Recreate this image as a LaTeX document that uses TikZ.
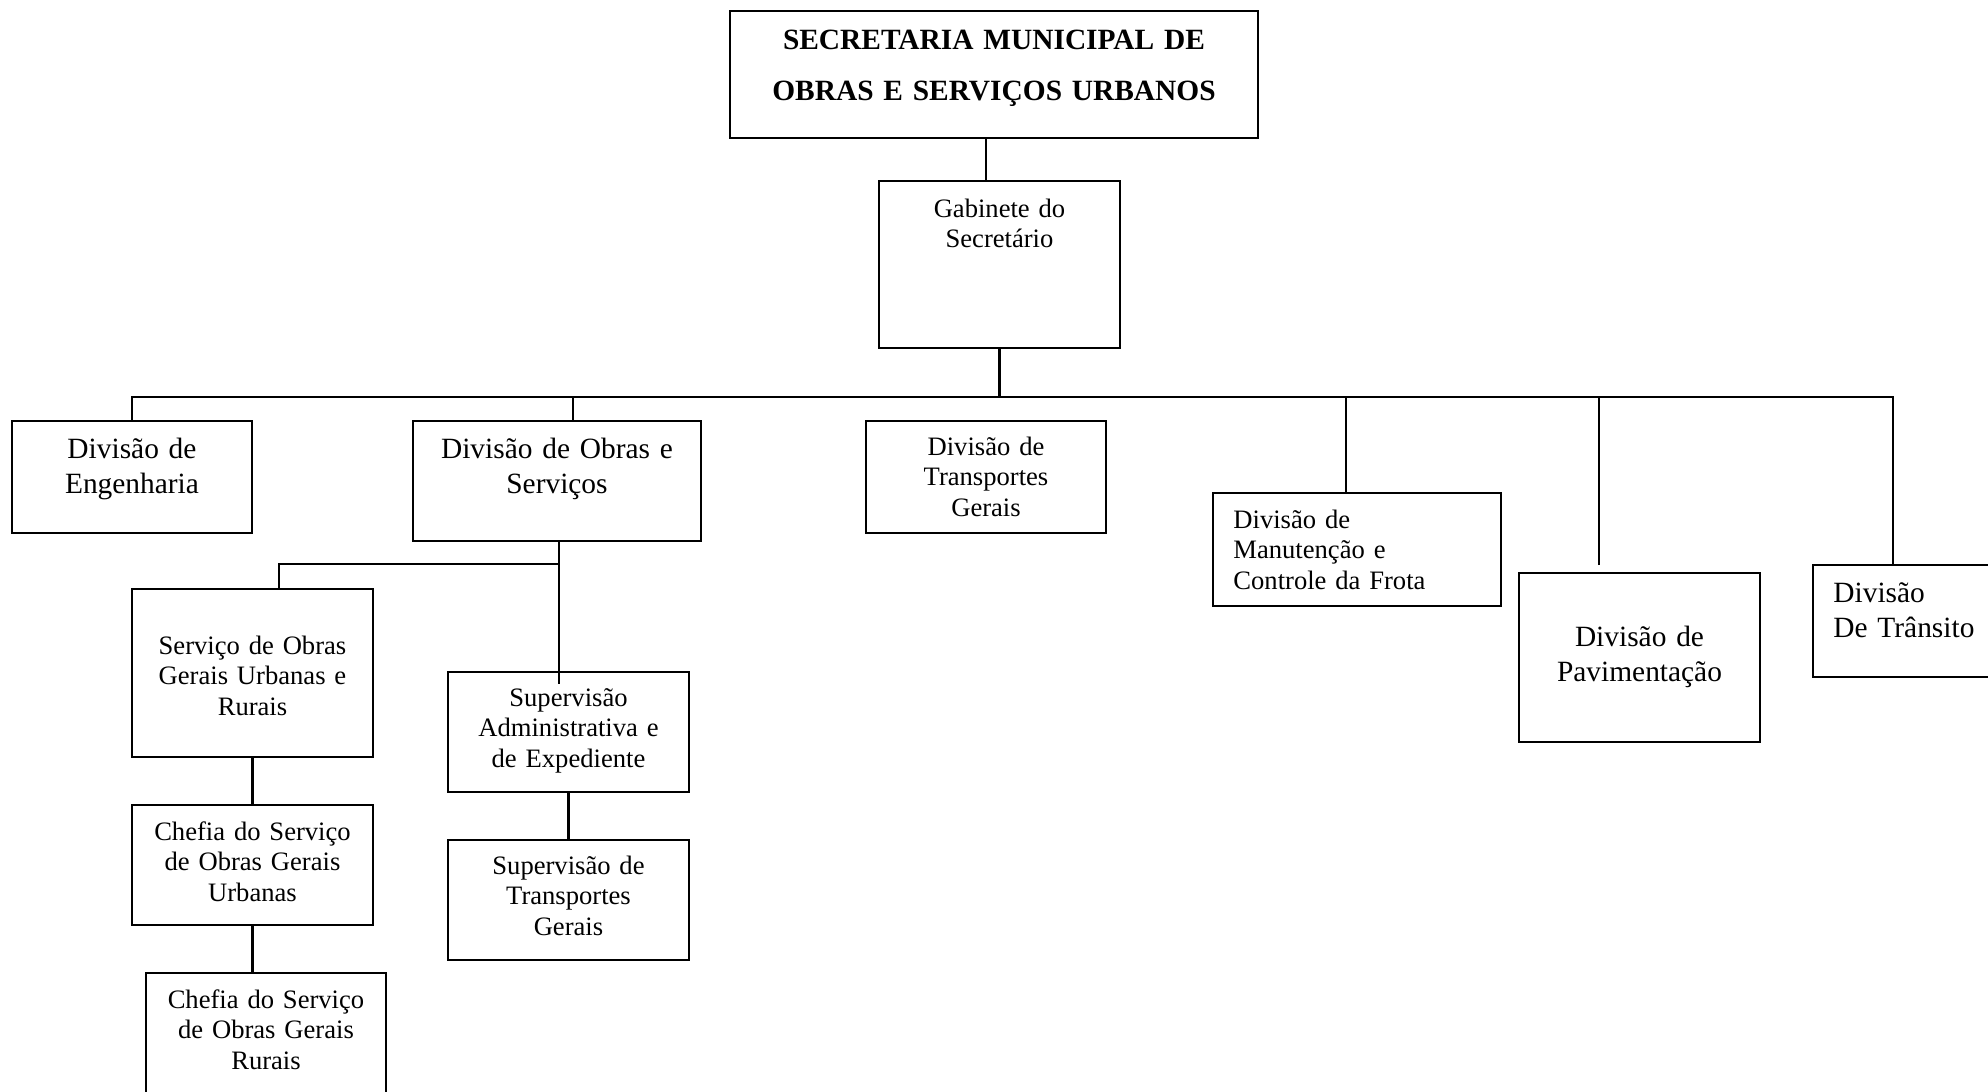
\documentclass[tikz,border=0pt]{standalone}
\usepackage{fontspec}
\setmainfont{Liberation Serif}
\usetikzlibrary{calc}
% one unit = one pixel of the 1988 x 1092 canvas, y grows downwards
\tikzset{
  orgbox/.style 2 args={draw, line width=1.1pt, inner sep=0pt, outer sep=0pt,
    minimum width=#1*0.5pt, minimum height=#2*0.5pt, anchor=north west},
  link/.style={line width=1.1pt},
  smalltxt/.style={font=\fontsize{13.3}{15.25}\selectfont, text width=120pt,
    align=center, anchor=base, inner sep=0pt},
  largetxt/.style={font=\fontsize{14.7}{17.6}\selectfont, text width=130pt,
    align=center, anchor=base, inner sep=0pt},
  titletxt/.style={font=\bfseries\fontsize{14.7}{25.5}\selectfont, text width=250pt,
    align=center, anchor=base, inner sep=0pt},
  leftside/.style={align=left, anchor=base west},
}
\begin{document}
\begin{tikzpicture}[x=0.5pt, y=-0.5pt]
\useasboundingbox (0,0) rectangle (1988,1092);
\clip (0,0) rectangle (1988,1092);
\fill[white] (0,0) rectangle (1988,1092);

% boxes
\node[orgbox={528}{127}] (sec) at (730,11) {};
\node[orgbox={241}{167}] (gab) at (879,181) {};
\node[orgbox={240}{112}] (eng) at (12,421) {};
\node[orgbox={288}{120}] (obr) at (413,421) {};
\node[orgbox={240}{112}] (tra) at (866,421) {};
\node[orgbox={288}{113}] (man) at (1213,493) {};
\node[orgbox={241}{169}] (pav) at (1519,573) {};
\node[orgbox={220}{112}] (trn) at (1813,565) {};
\node[orgbox={241}{168}] (sog) at (132,589) {};
\node[orgbox={241}{120}] (chu) at (132,805) {};
\node[orgbox={240}{140}] (chr) at (146,973) {};
\node[orgbox={241}{120}] (sad) at (448,672) {};
\node[orgbox={241}{120}] (stg) at (448,840) {};

% texts
\node[titletxt] (sec-t) at (994,49) {SECRETARIA MUNICIPAL DE\\OBRAS E SERVIÇOS URBANOS};
\node[smalltxt] (gab-t) at (999.5,217) {Gabinete do\\Secretário};
\node[largetxt] (eng-t) at (132,458) {Divisão de\\Engenharia};
\node[largetxt] (obr-t) at (557,458) {Divisão de Obras e\\Serviços};
\node[smalltxt] (tra-t) at (986,455) {Divisão de\\Transportes\\Gerais};
\node[smalltxt, leftside] (man-t) at (1233,528) {Divisão de\\Manutenção e\\Controle da Frota};
\node[largetxt] (pav-t) at (1639.5,646) {Divisão de\\Pavimentação};
\node[largetxt, leftside] (trn-t) at (1833,602) {Divisão\\De Trânsito};
\node[smalltxt] (sog-t) at (252.5,654) {Serviço de Obras\\Gerais Urbanas e\\Rurais};
\node[smalltxt] (chu-t) at (252.5,840) {Chefia do Serviço\\de Obras Gerais\\Urbanas};
\node[smalltxt] (chr-t) at (266,1008) {Chefia do Serviço\\de Obras Gerais\\Rurais};
\node[smalltxt] (sad-t) at (568.5,706) {Supervisão\\Administrativa e\\de Expediente};
\node[smalltxt] (stg-t) at (568.5,874) {Supervisão de\\Transportes\\Gerais};

% main bus
\coordinate (busR) at (1893,397);
\coordinate (subbus) at (559,564);

\draw[link] ([xshift=-4pt]sec.south) -- ([xshift=-4pt]sec.south |- gab.north);
\draw[link] (gab.south) -- (gab.south |- busR);
\draw[link] (eng.north) |- (busR) -- (busR |- trn.north);
\draw[link] ([xshift=8pt]obr.north) -- ([xshift=8pt]obr.north |- busR);
\draw[link] ([xshift=-5.5pt]man.north) -- ([xshift=-5.5pt]man.north |- busR);
\draw[link, shorten <=4pt] ([xshift=-20.25pt]pav.north) -- ([xshift=-20.25pt]pav.north |- busR);

% branch under Divisão de Obras e Serviços
\draw[link, shorten >=-6pt] ([xshift=1pt]obr.south) -- ([xshift=1pt]obr.south |- sad.north);
\draw[link] (subbus) -| ([xshift=13.25pt]sog.north);
\draw[link] (sad.south) -- (sad.south |- stg.north);
\draw[link] (sog.south) -- (chu.north);
\draw[link] (chu.south) -- (chu.south |- chr.north);
\end{tikzpicture}
\end{document}
